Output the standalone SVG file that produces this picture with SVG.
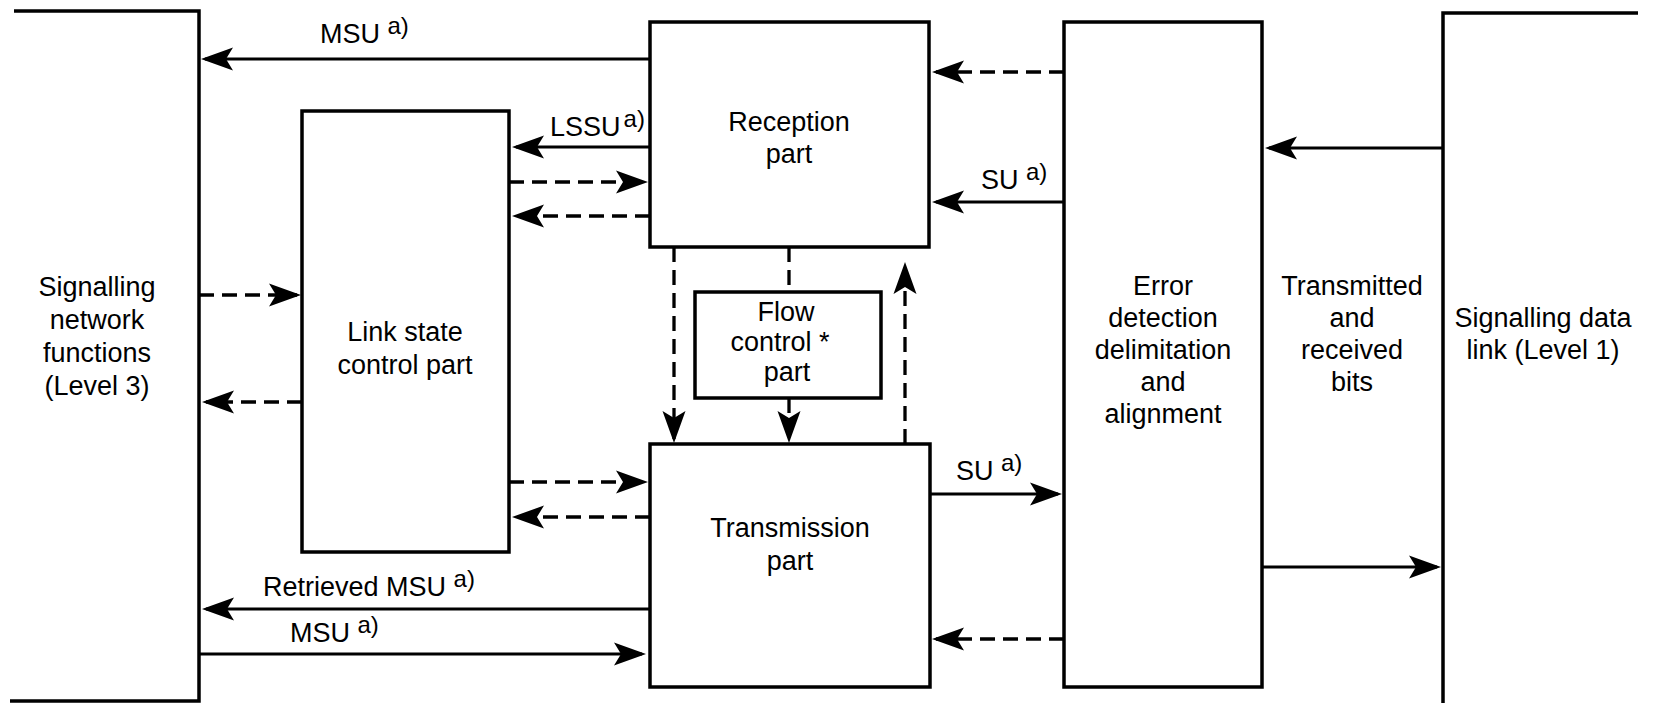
<svg xmlns="http://www.w3.org/2000/svg" width="1657" height="703" viewBox="0 0 1657 703">
<style>
.box{fill:none;stroke:#000;stroke-width:3.5;stroke-linejoin:miter}
.ln{stroke:#000;stroke-width:2.8;fill:none}
.ds{stroke-dasharray:15 8;stroke-width:3.3}
.t{font-family:"Liberation Sans",Arial,Helvetica,sans-serif;font-size:27px;fill:#000}
.c{text-anchor:middle}
.sup{font-size:24px}
</style>
<defs>
<marker id="ah" viewBox="-32 -13 38 26" refX="0" refY="0" markerWidth="38" markerHeight="26" markerUnits="userSpaceOnUse" orient="auto" overflow="visible">
<path d="M4,0 L-28,-11.5 L-21,0 L-28,11.5 Z" fill="#000"/>
</marker>
</defs>
<rect x="0" y="0" width="1657" height="703" fill="#fff"/>

<g id="level3">
<polyline class="box" points="14,11 199,11 199,701 10,701"/>
<text class="t c" x="97"><tspan x="97" y="296">Signalling</tspan><tspan x="97" y="329">network</tspan><tspan x="97" y="362">functions</tspan><tspan x="97" y="395">(Level 3)</tspan></text>
</g>

<g id="linkstate">
<rect class="box" x="302" y="111" width="207" height="441"/>
<text class="t c"><tspan x="405" y="341">Link state</tspan><tspan x="405" y="374">control part</tspan></text>
</g>

<g id="reception">
<rect class="box" x="650" y="22" width="279" height="225"/>
<text class="t c"><tspan x="789" y="131">Reception</tspan><tspan x="789" y="163">part</tspan></text>
</g>

<g id="flowcontrol">
<rect class="box" x="695" y="292" width="186" height="106"/>
<text class="t c"><tspan x="786" y="321">Flow</tspan><tspan x="780" y="351">control *</tspan><tspan x="787" y="381">part</tspan></text>
</g>

<g id="transmission">
<rect class="box" x="650" y="444" width="280" height="243"/>
<text class="t c"><tspan x="790" y="537">Transmission</tspan><tspan x="790" y="570">part</tspan></text>
</g>

<g id="error">
<rect class="box" x="1064" y="22" width="198" height="665"/>
<text class="t c"><tspan x="1163" y="295">Error</tspan><tspan x="1163" y="327">detection</tspan><tspan x="1163" y="359">delimitation</tspan><tspan x="1163" y="391">and</tspan><tspan x="1163" y="423">alignment</tspan></text>
</g>

<g id="bits">
<text class="t c"><tspan x="1352" y="295">Transmitted</tspan><tspan x="1352" y="327">and</tspan><tspan x="1352" y="359">received</tspan><tspan x="1352" y="391">bits</tspan></text>
</g>

<g id="level1">
<polyline class="box" points="1638,13 1443,13 1443,703"/>
<text class="t c"><tspan x="1543" y="327">Signalling data</tspan><tspan x="1543" y="359">link (Level 1)</tspan></text>
</g>

<g id="connectors">
<line class="ln" x1="650" y1="59" x2="205" y2="59" marker-end="url(#ah)"/>
<line class="ln" x1="650" y1="147" x2="516" y2="147" marker-end="url(#ah)"/>
<line class="ln" x1="1064" y1="202" x2="936" y2="202" marker-end="url(#ah)"/>
<line class="ln" x1="1443" y1="148" x2="1269" y2="148" marker-end="url(#ah)"/>
<line class="ln" x1="1262" y1="567" x2="1437" y2="567" marker-end="url(#ah)"/>
<line class="ln" x1="930" y1="494" x2="1058" y2="494" marker-end="url(#ah)"/>
<line class="ln" x1="650" y1="609" x2="206" y2="609" marker-end="url(#ah)"/>
<line class="ln" x1="199" y1="654" x2="642" y2="654" marker-end="url(#ah)"/>

<line class="ln ds" x1="509" y1="182" x2="644" y2="182" marker-end="url(#ah)"/>
<line class="ln ds" x1="650" y1="216" x2="516" y2="216" marker-end="url(#ah)"/>
<line class="ln ds" x1="1064" y1="72" x2="936" y2="72" marker-end="url(#ah)"/>
<line class="ln ds" x1="199" y1="295" x2="297" y2="295" marker-end="url(#ah)"/>
<line class="ln ds" x1="302" y1="402" x2="206" y2="402" marker-end="url(#ah)"/>
<line class="ln ds" x1="509" y1="482" x2="644" y2="482" marker-end="url(#ah)"/>
<line class="ln ds" x1="650" y1="517" x2="516" y2="517" marker-end="url(#ah)"/>
<line class="ln ds" x1="1064" y1="639" x2="936" y2="639" marker-end="url(#ah)"/>
<line class="ln ds" x1="674" y1="247" x2="674" y2="439" marker-end="url(#ah)"/>
<line class="ln ds" x1="789" y1="247" x2="789" y2="292"/>
<line class="ln ds" x1="789" y1="398" x2="789" y2="439" marker-end="url(#ah)"/>
<line class="ln ds" x1="905" y1="444" x2="905" y2="266" marker-end="url(#ah)"/>

<text class="t" x="320" y="43">MSU <tspan class="sup" dy="-9">a)</tspan></text>
<text class="t" x="550" y="136">LSSU<tspan class="sup" dx="3" dy="-9">a)</tspan></text>
<text class="t" x="981" y="189">SU <tspan class="sup" dy="-9">a)</tspan></text>
<text class="t" x="956" y="480">SU <tspan class="sup" dy="-9">a)</tspan></text>
<text class="t" x="263" y="596">Retrieved MSU <tspan class="sup" dy="-9">a)</tspan></text>
<text class="t" x="290" y="642">MSU <tspan class="sup" dy="-9">a)</tspan></text>
</g>
</svg>
